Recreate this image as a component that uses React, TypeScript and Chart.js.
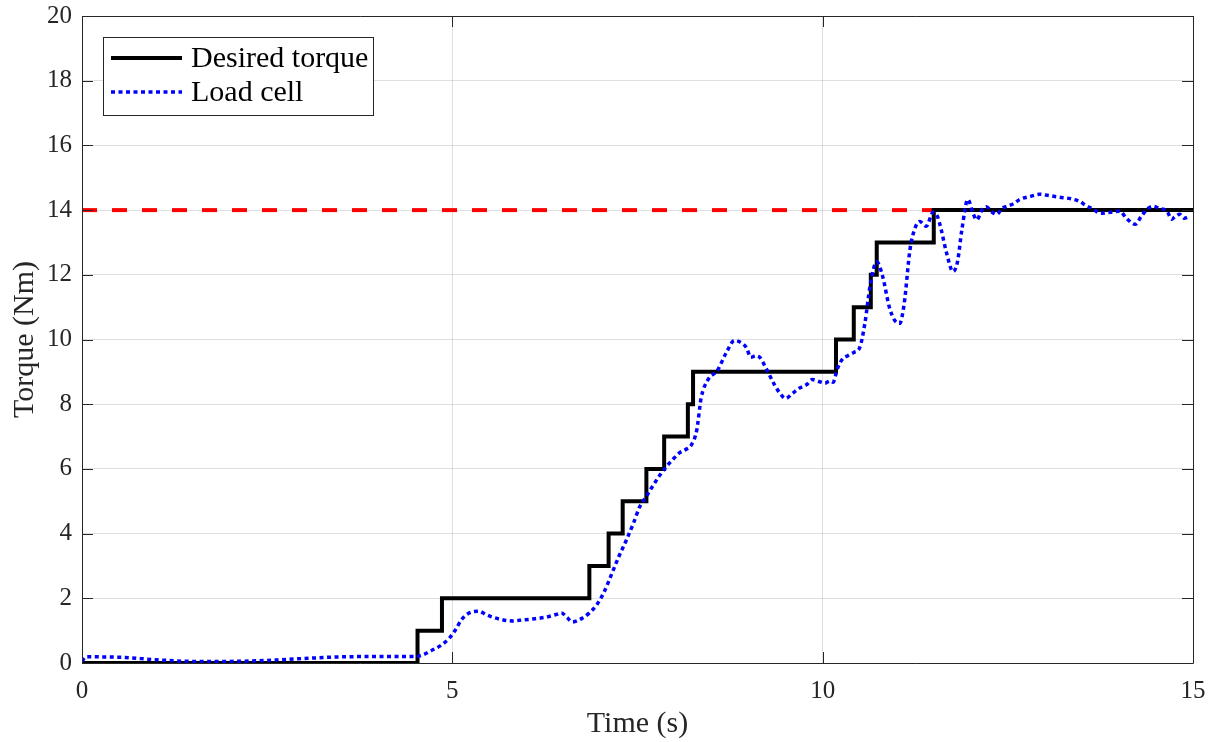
import { useEffect, useRef } from "react";
import { Chart, registerables } from "chart.js";

Chart.register(...registerables);

// Commanded torque steps: each value holds from its start time until the next one.
const stepTimes = [0, 4.53, 4.86, 6.85, 7.11, 7.3, 7.62, 7.86, 8.18, 8.25, 10.18, 10.42, 10.65, 10.73, 11.5, 15];
const stepValues = [0, 1, 2, 3, 4, 5, 6, 7, 8, 9, 10, 11, 12, 13, 14, 14];

// Measured torque from the load cell.
const loadTimes = [
  0, 0.05, 0.5, 1.0, 1.5, 2.0, 2.5, 3.0, 3.5, 4.0, 4.5, 4.6, 4.73, 4.85, 4.96, 5.05, 5.12, 5.23, 5.36, 5.45,
  5.54, 5.65, 5.81, 5.95, 6.08, 6.27, 6.4, 6.47, 6.55, 6.62, 6.75, 6.85, 6.95, 7.05, 7.16, 7.25, 7.35, 7.45,
  7.53, 7.62, 7.7, 7.8, 7.89, 7.98, 8.07, 8.15, 8.23, 8.3, 8.36, 8.45, 8.58, 8.7, 8.81, 8.9, 8.97, 9.03, 9.1,
  9.15, 9.26, 9.35, 9.42, 9.5, 9.6, 9.69, 9.78, 9.86, 9.95, 10.03, 10.1, 10.14, 10.2, 10.27, 10.34, 10.42,
  10.5, 10.57, 10.64, 10.73, 10.81, 10.9, 10.97, 11.04, 11.1, 11.18, 11.24, 11.31, 11.4, 11.49, 11.55, 11.6,
  11.67, 11.76, 11.82, 11.88, 11.96, 12.03, 12.08, 12.15, 12.21, 12.28, 12.35, 12.42, 12.49, 12.58, 12.66,
  12.8, 12.93, 13.05, 13.2, 13.35, 13.47, 13.55, 13.65, 13.75, 13.88, 14.01, 14.1, 14.22, 14.3, 14.38, 14.46,
  14.55, 14.65, 14.71, 14.76, 14.82, 14.88, 14.95,
];
const loadValues = [
  0.05, 0.19, 0.18, 0.1, 0.05, 0.05, 0.08, 0.14, 0.19, 0.2, 0.2, 0.25, 0.4, 0.55, 0.77, 1.05, 1.33, 1.55, 1.6, 1.5,
  1.42, 1.35, 1.3, 1.33, 1.36, 1.42, 1.5, 1.55, 1.4, 1.27, 1.38, 1.55, 1.8, 2.2, 2.8, 3.3, 3.8, 4.35,
  4.83, 5.15, 5.45, 5.8, 6.07, 6.3, 6.5, 6.6, 6.75, 7.2, 8.2, 8.75, 9.05, 9.6, 9.97, 9.9, 9.75, 9.45, 9.5,
  9.45, 9.0, 8.6, 8.35, 8.18, 8.35, 8.5, 8.6, 8.76, 8.7, 8.65, 8.72, 8.68, 9.1, 9.4, 9.5, 9.6,
  9.75, 10.5, 11.65, 12.4, 11.95, 11.0, 10.6, 10.5, 11.1, 12.8, 13.4, 13.65, 13.5, 13.93, 13.8, 13.4,
  12.7, 12.1, 12.4, 13.4, 14.33, 13.9, 13.7, 14.0, 14.1, 13.95, 13.87, 14.05, 14.12, 14.2, 14.33,
  14.42, 14.49, 14.45, 14.4, 14.35, 14.27, 14.15, 14.03, 13.9, 13.93, 13.97, 13.75, 13.56, 13.8, 14.03, 14.12,
  14.05, 13.97, 13.72, 13.8, 13.87, 13.75, 13.8,
];

// Torque limit reference line.
const limitTimes = [0, 11.5];
const limitValue = 14;

const xTicks = [0, 5, 10, 15];
const yTicks = [0, 2, 4, 6, 8, 10, 12, 14, 16, 18, 20];

const legendLabels = ["Desired torque", "Load cell"];

const AXIS_COLOR = "#262626";
const SERIF = "'Liberation Serif', 'Times New Roman', serif";
const LOAD_DASH = [4, 3.5];
const LIMIT_DASH = [15, 15];

// Build explicit corner points so the commanded torque reads as a staircase.
function staircase(times: number[], values: number[]) {
  const pts: { x: number; y: number }[] = [{ x: times[0], y: values[0] }];
  for (let i = 1; i < times.length; i++) {
    pts.push({ x: times[i], y: values[i - 1] });
    pts.push({ x: times[i], y: values[i] });
  }
  return pts;
}

// Axes box with inward tick marks on all four sides.
const boxPlugin = {
  id: "axesBox",
  afterDatasetsDraw(chart: any) {
    const { ctx, chartArea: a, scales } = chart;
    const len = 11;
    ctx.save();
    ctx.strokeStyle = AXIS_COLOR;
    ctx.lineWidth = 1;
    ctx.setLineDash([]);
    ctx.beginPath();
    ctx.rect(Math.round(a.left) + 0.5, Math.round(a.top) + 0.5, Math.round(a.right - a.left), Math.round(a.bottom - a.top));
    for (const v of yTicks) {
      const y = Math.round(scales.y.getPixelForValue(v)) + 0.5;
      ctx.moveTo(a.left, y);
      ctx.lineTo(a.left + len, y);
      ctx.moveTo(a.right, y);
      ctx.lineTo(a.right - len, y);
    }
    for (const v of xTicks) {
      const x = Math.round(scales.x.getPixelForValue(v)) + 0.5;
      ctx.moveTo(x, a.bottom);
      ctx.lineTo(x, a.bottom - len);
      ctx.moveTo(x, a.top);
      ctx.lineTo(x, a.top + len);
    }
    ctx.stroke();
    ctx.restore();
  },
};

// Boxed legend in the upper-left corner of the plot.
const legendPlugin = {
  id: "boxLegend",
  afterDraw(chart: any) {
    const { ctx } = chart;
    const left = 103.5;
    const top = 37.5;
    const w = 270;
    const h = 78;
    ctx.save();
    ctx.fillStyle = "#ffffff";
    ctx.fillRect(left, top, w, h);
    ctx.strokeStyle = AXIS_COLOR;
    ctx.lineWidth = 1;
    ctx.setLineDash([]);
    ctx.strokeRect(left, top, w, h);

    const rows = [
      { ds: chart.data.datasets[1], label: legendLabels[0], y: 58 },
      { ds: chart.data.datasets[0], label: legendLabels[1], y: 92 },
    ];
    for (const r of rows) {
      ctx.beginPath();
      ctx.strokeStyle = r.ds.borderColor;
      ctx.lineWidth = r.ds.borderWidth;
      ctx.setLineDash(r.ds.borderDash || []);
      ctx.lineCap = "butt";
      ctx.moveTo(111, r.y);
      ctx.lineTo(182, r.y);
      ctx.stroke();
      ctx.setLineDash([]);
      ctx.fillStyle = "#000000";
      ctx.font = `30px ${SERIF}`;
      ctx.textBaseline = "middle";
      ctx.textAlign = "left";
      ctx.fillText(r.label, 191, r.y + 1);
    }
    ctx.restore();
  },
};

export default function App() {
  const canvasRef = useRef<HTMLCanvasElement | null>(null);

  useEffect(() => {
    const canvas = canvasRef.current;
    if (!canvas) return;

    const loadPoints = loadTimes.map((t, i) => ({ x: t, y: loadValues[i] }));
    const limitPoints = limitTimes.map((t) => ({ x: t, y: limitValue }));

    const chart = new Chart(canvas, {
      type: "line",
      data: {
        datasets: [
          {
            label: legendLabels[1],
            data: loadPoints,
            borderColor: "#0000ff",
            borderWidth: 3.5,
            borderDash: LOAD_DASH,
            pointRadius: 0,
            cubicInterpolationMode: "monotone",
            fill: false,
            order: 0,
          },
          {
            label: legendLabels[0],
            data: staircase(stepTimes, stepValues),
            borderColor: "#000000",
            borderWidth: 4,
            borderJoinStyle: "miter",
            pointRadius: 0,
            tension: 0,
            fill: false,
            order: 1,
          },
          {
            label: "limit",
            data: limitPoints,
            borderColor: "#ff0000",
            borderWidth: 4,
            borderDash: LIMIT_DASH,
            pointRadius: 0,
            fill: false,
            order: 2,
          },
        ],
      },
      options: {
        animation: false,
        responsive: false,
        devicePixelRatio: 1,
        layout: { padding: { top: 16, right: 23, left: 0, bottom: 0 } },
        plugins: {
          legend: { display: false },
          tooltip: { enabled: false },
        },
        scales: {
          x: {
            type: "linear",
            min: 0,
            max: 15,
            afterFit: (s: any) => {
              s.height = 79;
              s.paddingLeft = 0;
              s.paddingRight = 0;
            },
            afterBuildTicks: (s: any) => {
              s.ticks = xTicks.map((v) => ({ value: v }));
            },
            ticks: {
              color: AXIS_COLOR,
              font: { family: SERIF, size: 25 },
              padding: 13,
              maxRotation: 0,
            },
            grid: {
              color: "rgba(38,38,38,0.15)",
              lineWidth: 1,
              drawTicks: false,
            },
            border: { display: false },
            title: {
              display: true,
              text: "Time (s)",
              color: AXIS_COLOR,
              font: { family: SERIF, size: 30 },
              padding: { top: 0, bottom: 0 },
            },
          },
          y: {
            type: "linear",
            min: 0,
            max: 20,
            afterFit: (s: any) => {
              s.width = 82;
              s.paddingTop = 0;
              s.paddingBottom = 0;
            },
            afterBuildTicks: (s: any) => {
              s.ticks = yTicks.map((v) => ({ value: v }));
            },
            ticks: {
              color: AXIS_COLOR,
              font: { family: SERIF, size: 25 },
              padding: 10,
            },
            grid: {
              color: "rgba(38,38,38,0.15)",
              lineWidth: 1,
              drawTicks: false,
            },
            border: { display: false },
            title: {
              display: true,
              text: "Torque (Nm)",
              color: AXIS_COLOR,
              font: { family: SERIF, size: 30 },
              padding: { top: 7, bottom: 0 },
            },
          },
        },
      },
      plugins: [boxPlugin, legendPlugin],
    } as any);

    return () => chart.destroy();
  }, []);

  return (
    <div style={{ position: "fixed", left: 0, top: 0, width: 1216, height: 742, background: "#ffffff" }}>
      <canvas ref={canvasRef} width={1216} height={742} style={{ display: "block" }} />
    </div>
  );
}
